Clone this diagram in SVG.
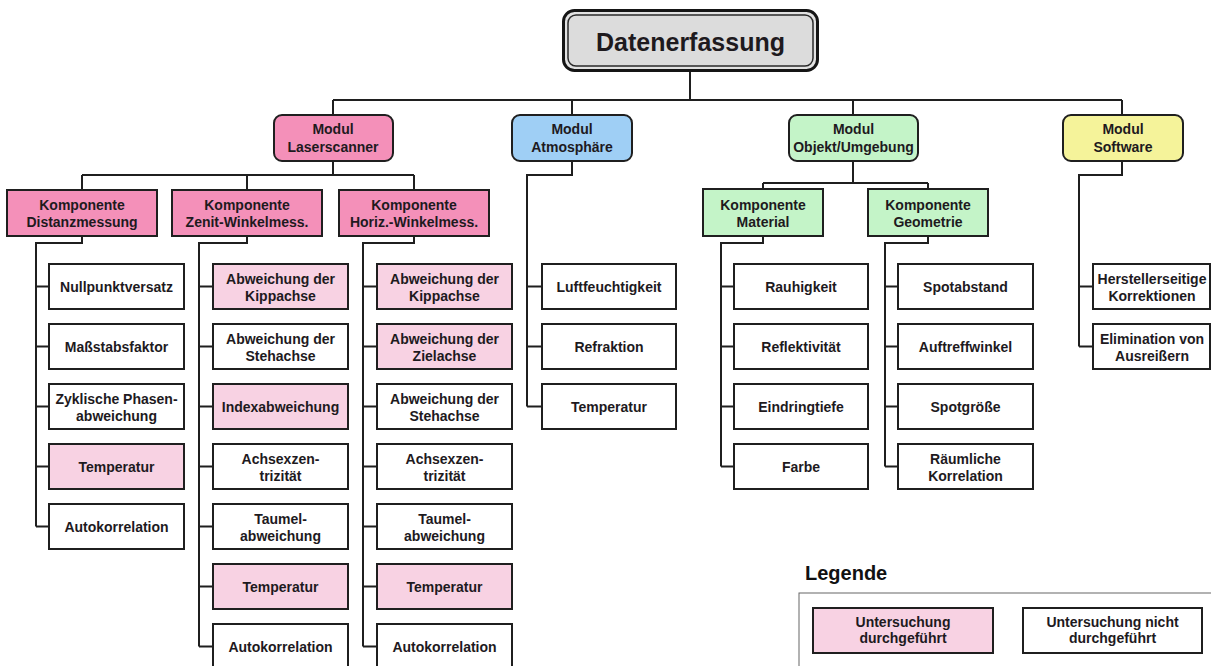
<svg xmlns="http://www.w3.org/2000/svg" width="1211" height="666" viewBox="0 0 1211 666">
<style>
text{font-family:"Liberation Sans",Arial,sans-serif;font-weight:bold;font-size:14px;fill:#1e1a1e;text-anchor:middle}
.b{stroke:#1f1f1f;stroke-width:2}
.w{fill:#ffffff}
.p{fill:#f8d2e3}
.pk{fill:#f490b9}
.bl{fill:#9fcff5}
.gr{fill:#c4f4c8}
.ye{fill:#f5f39a}
#connectors path{fill:none;stroke:#1f1f1f;stroke-width:2}
</style>
<rect width="1211" height="666" fill="#ffffff"/>
<g id="connectors">
<path d="M690 70V100M333 100H1122M333 100V115M572 100V115M853 100V115M1122 100V115"/>
<path d="M333 161V175M82 175H414M82 175V190M247 175V190M414 175V190"/>
<path d="M82 236V243H36V526.5M36 286.5H49M36 346.5H49M36 406.5H49M36 466.5H49M36 526.5H49"/>
<path d="M247 236V243H199V646.5M199 286.5H213M199 346.5H213M199 406.5H213M199 466.5H213M199 526.5H213M199 586.5H213M199 646.5H213"/>
<path d="M414 236V243H363V646.5M363 286.5H377M363 346.5H377M363 406.5H377M363 466.5H377M363 526.5H377M363 586.5H377M363 646.5H377"/>
<path d="M572 161V175H527V406.5M527 286.5H542M527 346.5H542M527 406.5H542"/>
<path d="M853 161V183M763 183H928M763 183V189M928 183V189"/>
<path d="M763 236V243H721V466.5M721 286.5H734M721 346.5H734M721 406.5H734M721 466.5H734"/>
<path d="M928 236V243H885V466.5M885 286.5H898M885 346.5H898M885 406.5H898M885 466.5H898"/>
<path d="M1122 161V175H1079V346.5M1079 286.5H1093M1079 346.5H1093"/>
</g>
<g id="title">
<rect x="563.5" y="10.5" width="254" height="60" rx="11" fill="#e2e2e2" stroke="#151515" stroke-width="3"/>
<rect x="568" y="15" width="245" height="51" rx="8" fill="#dcdcdc" stroke="#2a2a2a" stroke-width="1.5"/>
<text x="690.5" y="51" style="font-size:25px">Datenerfassung</text>
</g>
<g id="mod-laser"><rect class="b pk" x="274" y="115" width="119" height="46" rx="8"/><text x="333" y="134">Modul</text><text x="333" y="152">Laserscanner</text></g>
<g id="mod-atmo"><rect class="b bl" x="512" y="115" width="120" height="46" rx="8"/><text x="572" y="134">Modul</text><text x="572" y="152">Atmosphäre</text></g>
<g id="mod-objekt"><rect class="b gr" x="789" y="115" width="129" height="46" rx="8"/><text x="853.5" y="134">Modul</text><text x="853.5" y="152">Objekt/Umgebung</text></g>
<g id="mod-software"><rect class="b ye" x="1063" y="115" width="120" height="46" rx="8"/><text x="1123" y="134">Modul</text><text x="1123" y="152">Software</text></g>
<g id="k-distanz"><rect class="b pk" x="7" y="190" width="150" height="46"/><text x="82" y="210">Komponente</text><text x="82" y="227">Distanzmessung</text></g>
<g id="k-zenit"><rect class="b pk" x="172" y="190" width="150" height="46"/><text x="247" y="210">Komponente</text><text x="247" y="227">Zenit-Winkelmess.</text></g>
<g id="k-horiz"><rect class="b pk" x="339" y="190" width="150" height="46"/><text x="414" y="210">Komponente</text><text x="414" y="227">Horiz.-Winkelmess.</text></g>
<g id="k-material"><rect class="b gr" x="703" y="189" width="120" height="47"/><text x="763" y="210">Komponente</text><text x="763" y="227">Material</text></g>
<g id="k-geometrie"><rect class="b gr" x="868" y="189" width="120" height="47"/><text x="928" y="210">Komponente</text><text x="928" y="227">Geometrie</text></g>
<g id="d1"><rect class="b w" x="49" y="264" width="135" height="45"/><text x="116.5" y="292">Nullpunktversatz</text></g>
<g id="d2"><rect class="b w" x="49" y="324" width="135" height="45"/><text x="116.5" y="352">Maßstabsfaktor</text></g>
<g id="d3"><rect class="b w" x="49" y="384" width="135" height="45"/><text x="116.5" y="403.5">Zyklische Phasen-</text><text x="116.5" y="420.5">abweichung</text></g>
<g id="d4"><rect class="b p" x="49" y="444" width="135" height="45"/><text x="116.5" y="472">Temperatur</text></g>
<g id="d5"><rect class="b w" x="49" y="504" width="135" height="45"/><text x="116.5" y="532">Autokorrelation</text></g>
<g id="z1"><rect class="b p" x="213" y="264" width="135" height="45"/><text x="280.5" y="283.5">Abweichung der</text><text x="280.5" y="300.5">Kippachse</text></g>
<g id="z2"><rect class="b w" x="213" y="324" width="135" height="45"/><text x="280.5" y="343.5">Abweichung der</text><text x="280.5" y="360.5">Stehachse</text></g>
<g id="z3"><rect class="b p" x="213" y="384" width="135" height="45"/><text x="280.5" y="412">Indexabweichung</text></g>
<g id="z4"><rect class="b w" x="213" y="444" width="135" height="45"/><text x="280.5" y="463.5">Achsexzen-</text><text x="280.5" y="480.5">trizität</text></g>
<g id="z5"><rect class="b w" x="213" y="504" width="135" height="45"/><text x="280.5" y="523.5">Taumel-</text><text x="280.5" y="540.5">abweichung</text></g>
<g id="z6"><rect class="b p" x="213" y="564" width="135" height="45"/><text x="280.5" y="592">Temperatur</text></g>
<g id="z7"><rect class="b w" x="213" y="624" width="135" height="45"/><text x="280.5" y="652">Autokorrelation</text></g>
<g id="h1"><rect class="b p" x="377" y="264" width="135" height="45"/><text x="444.5" y="283.5">Abweichung der</text><text x="444.5" y="300.5">Kippachse</text></g>
<g id="h2"><rect class="b p" x="377" y="324" width="135" height="45"/><text x="444.5" y="343.5">Abweichung der</text><text x="444.5" y="360.5">Zielachse</text></g>
<g id="h3"><rect class="b w" x="377" y="384" width="135" height="45"/><text x="444.5" y="403.5">Abweichung der</text><text x="444.5" y="420.5">Stehachse</text></g>
<g id="h4"><rect class="b w" x="377" y="444" width="135" height="45"/><text x="444.5" y="463.5">Achsexzen-</text><text x="444.5" y="480.5">trizität</text></g>
<g id="h5"><rect class="b w" x="377" y="504" width="135" height="45"/><text x="444.5" y="523.5">Taumel-</text><text x="444.5" y="540.5">abweichung</text></g>
<g id="h6"><rect class="b p" x="377" y="564" width="135" height="45"/><text x="444.5" y="592">Temperatur</text></g>
<g id="h7"><rect class="b w" x="377" y="624" width="135" height="45"/><text x="444.5" y="652">Autokorrelation</text></g>
<g id="a1"><rect class="b w" x="542" y="264" width="134" height="45"/><text x="609" y="292">Luftfeuchtigkeit</text></g>
<g id="a2"><rect class="b w" x="542" y="324" width="134" height="45"/><text x="609" y="352">Refraktion</text></g>
<g id="a3"><rect class="b w" x="542" y="384" width="134" height="45"/><text x="609" y="412">Temperatur</text></g>
<g id="m1"><rect class="b w" x="734" y="264" width="134" height="45"/><text x="801" y="292">Rauhigkeit</text></g>
<g id="m2"><rect class="b w" x="734" y="324" width="134" height="45"/><text x="801" y="352">Reflektivität</text></g>
<g id="m3"><rect class="b w" x="734" y="384" width="134" height="45"/><text x="801" y="412">Eindringtiefe</text></g>
<g id="m4"><rect class="b w" x="734" y="444" width="134" height="45"/><text x="801" y="472">Farbe</text></g>
<g id="g1"><rect class="b w" x="898" y="264" width="135" height="45"/><text x="965.5" y="292">Spotabstand</text></g>
<g id="g2"><rect class="b w" x="898" y="324" width="135" height="45"/><text x="965.5" y="352">Auftreffwinkel</text></g>
<g id="g3"><rect class="b w" x="898" y="384" width="135" height="45"/><text x="965.5" y="412">Spotgröße</text></g>
<g id="g4"><rect class="b w" x="898" y="444" width="135" height="45"/><text x="965.5" y="463.5">Räumliche</text><text x="965.5" y="480.5">Korrelation</text></g>
<g id="s1"><rect class="b w" x="1093" y="264" width="117" height="45"/><text x="1152" y="283.5">Herstellerseitige</text><text x="1152" y="300.5">Korrektionen</text></g>
<g id="s2"><rect class="b w" x="1093" y="324" width="117" height="45"/><text x="1152" y="343.5">Elimination von</text><text x="1152" y="360.5">Ausreißern</text></g>
<g id="legend">
<text x="805" y="580" style="font-size:20px;text-anchor:start;fill:#111">Legende</text>
<rect x="799" y="593" width="430" height="100" fill="none" stroke="#666" stroke-width="1"/>
<rect class="b p" x="813" y="608" width="180" height="45"/><text x="903" y="627">Untersuchung</text><text x="903" y="643">durchgeführt</text>
<rect class="b w" x="1023" y="608" width="179" height="45"/><text x="1112.5" y="627">Untersuchung nicht</text><text x="1112.5" y="643">durchgeführt</text>
</g>
</svg>
